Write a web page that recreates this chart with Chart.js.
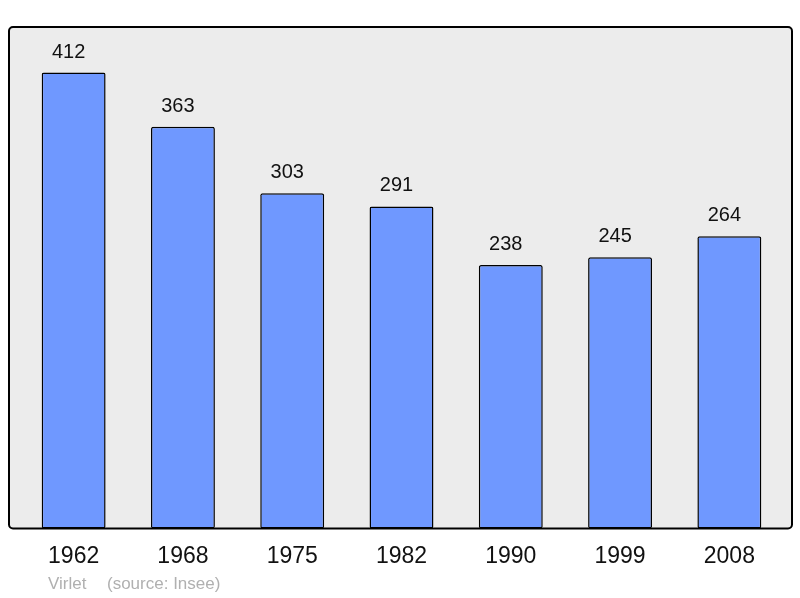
<!DOCTYPE html>
<html><head><meta charset="utf-8">
<script src="https://cdn.jsdelivr.net/npm/chart.js@4/dist/chart.umd.min.js"></script>
<style>html,body{margin:0;padding:0;background:#fff}#w{width:800px;height:598px}</style>
</head><body><div id="w"><canvas id="c"></canvas></div>
<script>
const years = ["1962","1968","1975","1982","1990","1999","2008"];
const population = [412,363,303,291,238,245,264];
const footerAuthor = "Virlet";
const footerSource = "(source: Insee)";

const bgBox = {
  id:'bgBox',
  beforeDraw(chart){
    const {ctx, chartArea:a} = chart;
    const l=a.left-10, r=a.right+8, t=a.top, b=a.bottom;
    ctx.save();
    ctx.beginPath();
    ctx.roundRect(l,t,r-l,b-t,4);
    ctx.fillStyle='#ececec';
    ctx.fill();
    ctx.restore();
  },
  afterDatasetsDraw(chart){
    const {ctx, chartArea:a} = chart;
    const l=a.left-10, r=a.right+8, t=a.top, b=a.bottom;
    ctx.save();
    ctx.beginPath();
    ctx.roundRect(l,t,r-l,b-t,4);
    ctx.lineWidth=2;
    ctx.strokeStyle='#000';
    ctx.stroke();
    const meta = chart.getDatasetMeta(0);
    ctx.font='20px "Liberation Sans", Arial, sans-serif';
    ctx.fillStyle='#111';
    ctx.textAlign='center';
    ctx.textBaseline='middle';
    meta.data.forEach((el,i)=>{
      ctx.fillText(String(population[i]), el.x-5, el.y-20.5);
    });
    ctx.font='17px "Liberation Sans", Arial, sans-serif';
    ctx.fillStyle='#b0b0b0';
    ctx.textAlign='left';
    ctx.fillText(footerAuthor, 48, 584);
    ctx.fillText(footerSource, 107, 584);
    ctx.restore();
  }
};

new Chart(document.getElementById('c'), {
  type:'bar',
  data:{labels:years, datasets:[{
    data:population,
    backgroundColor:'#6f98ff',
    borderColor:'#000',
    borderWidth:1.5,
    borderRadius:2,
    borderSkipped:false,
    categoryPercentage:1,
    barPercentage:0.585
  }]},
  options:{
    responsive:true, maintainAspectRatio:false, animation:false,
    devicePixelRatio:1,
    layout:{padding:{left:19,right:16,top:27,bottom:14}},
    plugins:{legend:{display:false}, tooltip:{enabled:false}},
    scales:{
      x:{grid:{display:false, drawTicks:false}, border:{display:false},
         ticks:{font:{size:23, family:'"Liberation Sans", Arial, sans-serif'}, color:'#111', padding:14}},
      y:{display:false, min:0, max:453.2}
    }
  },
  plugins:[bgBox]
});
</script></body></html>
